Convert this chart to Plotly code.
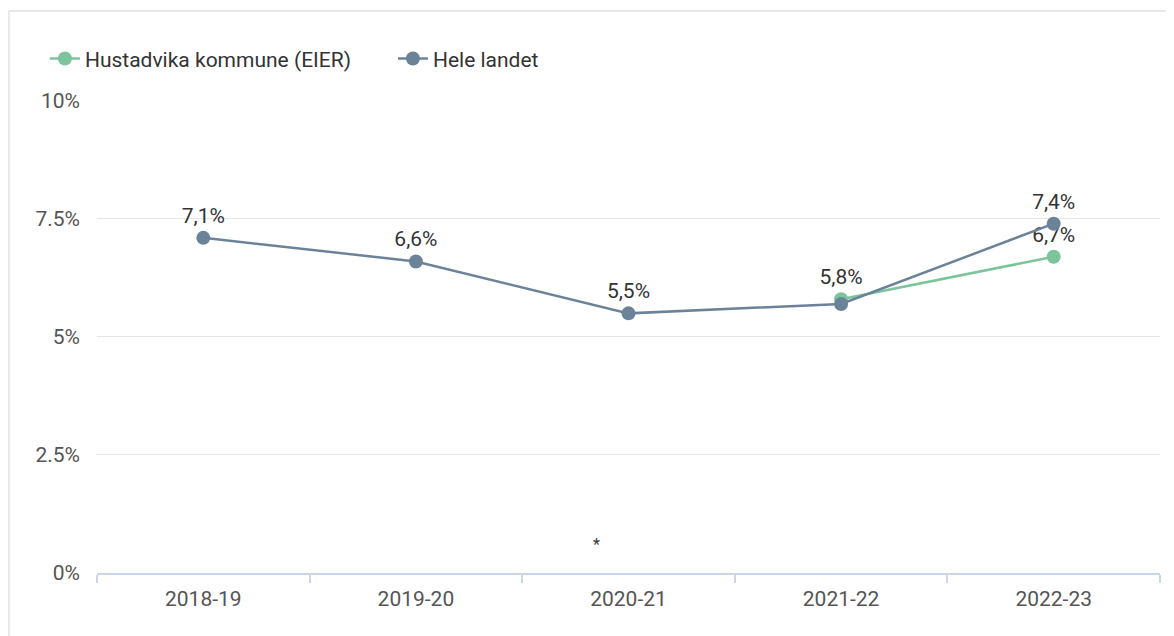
import plotly.graph_objects as go

categories = ["2018-19", "2019-20", "2020-21", "2021-22", "2022-23"]
hustadvika = [None, None, None, 5.8, 6.7]
hele_landet = [7.1, 6.6, 5.5, 5.7, 7.4]
hele_landet_show_label = [True, True, True, False, True]
y_tickvals = [0, 2.5, 5, 7.5, 10]
y_ticktext = ["0%", "2.5%", "5%", "7.5%", "10%"]

def fmt(v):
    return "" if v is None else f"{v:.1f}%".replace(".", ",")

green = "#7cc49b"
slate = "#6b8399"
FONT = "Roboto"
FS = 21

fig = go.Figure()
fig.add_trace(go.Scatter(
    x=categories, y=hustadvika, name="Hustadvika kommune (EIER)",
    mode="lines+markers+text",
    text=[fmt(v) for v in hustadvika], textposition="top center",
    textfont=dict(family=FONT, size=FS, color="#333333"),
    line=dict(color=green, width=2.5), marker=dict(color=green, size=14),
    connectgaps=False,
))
fig.add_trace(go.Scatter(
    x=categories, y=hele_landet, name="Hele landet",
    mode="lines+markers+text",
    text=[fmt(v) if s else "" for v, s in zip(hele_landet, hele_landet_show_label)],
    textposition="top center",
    textfont=dict(family=FONT, size=FS, color="#333333"),
    line=dict(color=slate, width=2.5), marker=dict(color=slate, size=14),
))

fig.add_annotation(x=1.85, y=0.6, xref="x", yref="y", text="*", showarrow=False,
                   font=dict(family=FONT, size=16, color="#333333"))

# panel border lines (top and left)
fig.add_shape(type="line", xref="paper", yref="paper", x0=-0.083, x1=1.2, y0=1.188, y1=1.188,
              line=dict(color="#e8e8e8", width=2))
fig.add_shape(type="line", xref="paper", yref="paper", x0=-0.083, x1=-0.083, y0=-0.3, y1=1.188,
              line=dict(color="#e8e8e8", width=2))

fig.update_layout(
    width=1174, height=636,
    margin=dict(l=89, r=22, t=92, b=71),
    paper_bgcolor="white", plot_bgcolor="white",
    font=dict(family=FONT, size=FS, color="#333333"),
    showlegend=True,
    legend=dict(orientation="h", x=-0.049, y=1.087, xanchor="left", yanchor="middle",
                font=dict(family=FONT, size=FS, color="#333333"),
                itemwidth=30, entrywidth=303, entrywidthmode="pixels",
                bgcolor="rgba(0,0,0,0)"),
    xaxis=dict(
        type="category", range=[-0.5, 4.5], tickson="boundaries",
        showline=True, linecolor="#ccd6eb", linewidth=2,
        ticks="outside", ticklen=8, tickcolor="#ccd6eb", tickwidth=2,
        showgrid=False, zeroline=False, ticklabelstandoff=6,
        tickfont=dict(family=FONT, size=FS, color="#555555"),
    ),
    yaxis=dict(
        range=[0, 10.02], tickvals=y_tickvals, ticktext=y_ticktext,
        showgrid=True, gridcolor="#e6e6e6", gridwidth=1,
        zeroline=False, showline=False, ticks="", ticklabelstandoff=16,
        tickfont=dict(family=FONT, size=FS, color="#555555"),
    ),
)

fig.write_html("out.html")
